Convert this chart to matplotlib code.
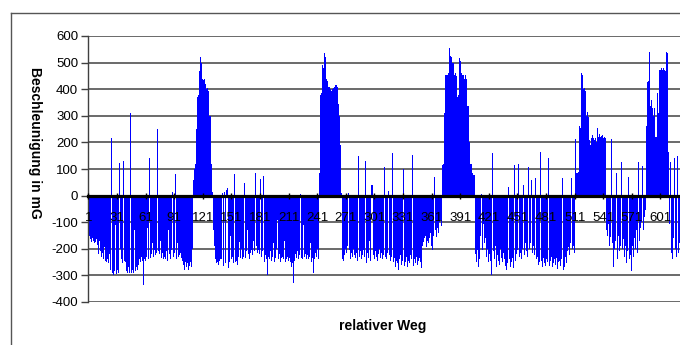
import matplotlib
matplotlib.use('Agg')
import matplotlib.pyplot as plt
import numpy as np
from matplotlib.lines import Line2D

plt.rcParams['font.family'] = ['Liberation Sans', 'DejaVu Sans']
plt.rcParams['axes.unicode_minus'] = False

# ---- data, categories 1..621 ----
seg_a = [  # 1-110
    -160, -150, -165, -175, -160, -170, -180, -175, -165, -185,
    -190, -220, -170, -210, -230, -215, -240, -195, -245, -250,
    -240, -255, -220, -280, 216, -290, -298, -285, -110, -295,
    -280, -290, -90, 122, -200, -240, -255, 130, -245, -250,
    -285, -292, -270, -290, 310, -292, -280, -290, -130, -285,
    -270, -280, -260, -285, -240, -250, -230, -245, -335, -240,
    -245, -230, -120, -240, 140, -235, -220, -180, -230, -205,
    -225, -215, 250, -210, -240, -220, -170, -235, -215, -240,
    -230, -240, -210, -245, -130, -220, -240, -205, 13, -230,
    -215, 80, -240, -180, -230, -225, -240, -215, -235, -245,
    -260, -280, -250, -270, -255, -280, -265, -250, -270, -200,
]
peak_1 = [  # 111-130
    60, 100, 120, 250, 370, 380, 470, 515, 520, 500,
    440, 435, 440, 420, 400, 405, 395, 300, 300, 120,
]
seg_b = [  # 131-242
    15, -130, -190, -240, -255, -250, -260, -245, -240, -255,
    -240, 10, -265, 15, -255, 20, 28, -273, -250, -150,
    -240, -230, -255, 80, -250, -245, -260, -230, -175, -235,
    -220, -200, -240, -230, 46, -235, -210, -130, -220, -240,
    -215, -205, -225, -170, -210, 86, -190, -215, -205, -220,
    62, -230, -245, -210, 75, -250, -225, -240, -298, -230,
    -240, -210, -245, -230, -180, -250, -235, -200, -90, -240,
    -220, -250, -235, -245, -230, -240, -170, -250, -240, -230,
    -245, -235, -250, -270, -255, -330, -245, -220, -235, -210,
    -240, -225, 6, -235, -215, -240, -110, -230, -220, -240,
    -225, -240, -230, -180, -250, -235, -292, -240, -215, -230,
    -200, -240,
]
peak_2 = [  # 243-266
    84, 380, 385, 490, 500, 480, 535, 520, 440, 430, 410, 410,
    400, 395, 400, 405, 410, 415, 415, 410, 345, 300, 190, 10,
]
seg_c = [  # 267-371
    -240, -235, -245, -225, -200, -215, -190, 8, -205, -240, -215, -230, -200, -225,
    -235, -215, -245, 149, -230, -210, -240, -225, -205, -250,
    -230, 130, -254, -215, -235, -170, -245, 40, 38, -225,
    -240, -210, -230, -245, -220, -200, -235, -215, -240, -225,
    -205, 108, -230, -240, -215, 17, -225, -245, -230, 160,
    -250, -235, -270, -245, -255, -280, -240, -225, -260, -245,
    99, -235, -265, -250, -230, -270, -245, -255, -225, -240,
    153, -265, -240, -255, -230, -260, -245, -235, -250, -273,
    -190, -175, -160, -185, -150, -195, -170, -180, -160, -140,
    -190, -205, -150, 71, -130, -155, -120, -140, -100, -90, -115,
]
peak_3 = [  # 372-406
    115, 120, 310, 440, 455, 455, 454, 460, 554, 523,
    520, 497, 500, 454, 460, 450, 372, 380, 516, 505,
    460, 455, 455, 440, 455, 450, 440, 335, 335, 200,
    120, 120, 84, 78, 78,
]
seg_d = [  # 407-511
    -220, -250, -205, -267,
    -240, -150, 6, -205, -105, -180, -160, -298, -230, -200,
    -250, -220, -245, -298, 159, -210, -240, -190, -267, -225,
    -245, -260, -200, -235, -250, -215, -240, -265, -230, -280,
    -255, 34, -240, -270, -250, -235, -273, 115, -245, -220,
    -205, 120, -230, -215, -240, -200, 38, -225, -180, -210,
    -195, -230, 109, -200, -180, 60, -215, -190, -225, 65,
    -240, -230, -260, -250, 165, -245, -270, -235, -255, -265,
    -240, -280, -250, 140, -265, -245, -230, -270, -255, -240,
    -260, -235, -275, -250, -245, -265, -240, 65, -280, -270,
    -230, -255, -210, -240, -195, -225, -180, 65, -200, -190, -215,
]
peak_4 = [  # 512-543
    213, 84, 84, 90, 260, 255, 460, 455, 400, 403,
    395, 300, 316, 296, 295, 209, 190, 215, 228, 215,
    210, 215, 200, 253, 222, 230, 220, 225, 228, 215,
    220, 215,
]
seg_e = [  # 544-585
    -130, -150, -105, -170, -190, -155, 213,
    -180, -267, -200, -170, 84, -240, -150, -210, -190, 128,
    -200, -165, -230, -190, -255, -210, 71, 200, -240, -225,
    -285, -190, -230, -160, -200, -130, -215, 125, -170, -120,
    -100, 113, -130, -80, -55,
]
peak_5 = [  # 586-609
    260, 428, 430, 548, 540, 335, 360, 328, 300, 330, 222, 222,
    385, 310, 472, 472, 478, 472, 478, 472, 470, 541, 537, 165,
]
seg_f = [  # 610-621
    -105, -180, 128, -217, -240, -160, 140, -200, -230, 147, -215, -180,
]

x_tick_labels = [str(v) for v in range(1, 602, 30)]
y_ticks = [600, 500, 400, 300, 200, 100, 0, -100, -200, -300, -400]
y_label = "Beschleunigung in mG"
x_label = "relativer Weg"

values = np.concatenate([seg_a, peak_1, seg_b, peak_2, seg_c, peak_3,
                         seg_d, peak_4, seg_e, peak_5, seg_f])
cats = np.arange(1, len(values) + 1)

W, H = 680, 345
fig = plt.figure(figsize=(W / 100, H / 100), dpi=100)
fig.patch.set_facecolor('white')
ax = fig.add_axes([88 / W, (H - 302) / H, (W - 88) / W, (302 - 36) / H])

ax.bar(cats, values, width=1.0, color='#0000FF', linewidth=0,
       antialiased=False, zorder=2)

ax.set_xlim(0.5, 621.5)
ax.set_ylim(-400, 600)
ax.set_yticks(y_ticks)
ax.set_yticklabels([str(v) for v in y_ticks])
ax.set_xticks([int(s) for s in x_tick_labels])
ax.set_xticklabels(x_tick_labels)

ax.yaxis.grid(True, color='#5e5e5e', linewidth=1.3)
ax.xaxis.grid(False)
ax.set_axisbelow(True)
ax.xaxis.set_zorder(3.5)

for s in ['top', 'right']:
    ax.spines[s].set_visible(False)
ax.spines['bottom'].set_position(('data', 0))
ax.spines['bottom'].set_linewidth(2.3)
ax.spines['bottom'].set_color('black')
ax.spines['bottom'].set_zorder(3)
ax.spines['left'].set_color('#404040')
ax.spines['left'].set_linewidth(1.0)

ax.tick_params(axis='x', direction='inout', length=4, width=1, pad=10,
               labelsize=9.5, colors='black')
ax.tick_params(axis='y', direction='out', length=5, width=1, pad=2,
               labelsize=9.5, color='#404040', labelcolor='black')

fig.text(35 / W, 1 - 143 / H, y_label, rotation=270, ha='center', va='center',
         fontsize=10, fontweight='bold')
fig.text(383 / W, 1 - 326 / H, x_label, ha='center', va='center',
         fontsize=10, fontweight='bold')

# outer chart-area frame (cropped at right and bottom)
fig.add_artist(Line2D([11 / W, 11 / W], [0, 1 - 13 / H], color='#555555',
                      linewidth=1.0, transform=fig.transFigure))
fig.add_artist(Line2D([11 / W, 1], [1 - 13 / H, 1 - 13 / H], color='#555555',
                      linewidth=1.0, transform=fig.transFigure))

fig.savefig('out.png', dpi=100, facecolor='white')
